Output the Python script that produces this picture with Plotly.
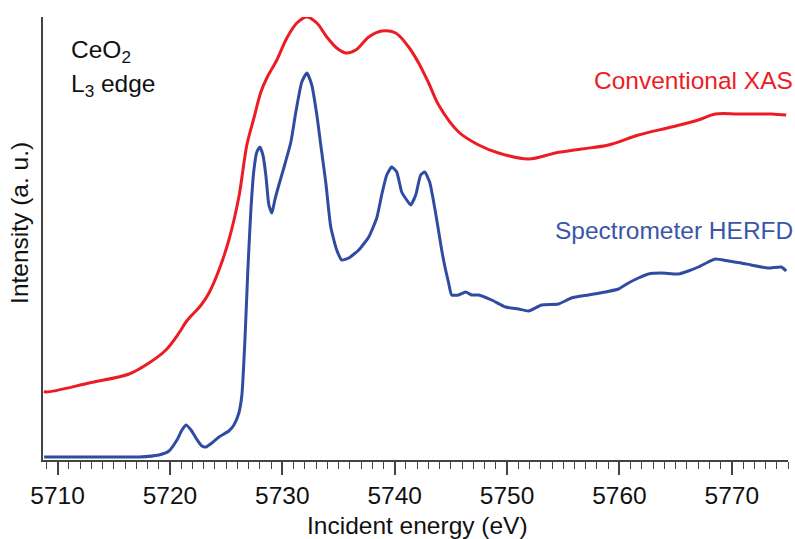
import plotly.graph_objects as go

# Conventional XAS (total fluorescence) – energy in eV, intensity in arbitrary units
xas_energy = [5708.80, 5708.98, 5712.80, 5716.36, 5718.13, 5719.64, 5720.80, 5721.42,
              5721.87, 5722.31, 5722.84, 5723.47, 5724.36, 5725.24, 5726.13, 5726.84,
              5727.47, 5728.09, 5728.62, 5729.51, 5730.40, 5731.29, 5732.18, 5733.07,
              5733.96, 5734.84, 5735.64, 5736.53, 5737.69, 5738.84, 5740.09, 5741.24,
              5742.13, 5743.02, 5743.91, 5745.69, 5747.47, 5749.24, 5751.91, 5754.31,
              5756.62, 5759.02, 5761.69, 5764.62, 5767.02, 5768.53, 5770.58, 5773.51,
              5774.84]
xas_intensity = [69, 68, 77, 86, 97, 110, 127, 138,
                 144, 149, 156, 167, 190, 220, 263, 315,
                 342, 368, 382, 400, 422, 437, 443, 437,
                 423, 412, 407, 410, 423, 429, 427, 413,
                 397, 377, 355, 328, 315, 307, 301, 307,
                 311, 315, 325, 333, 340, 346, 346, 346,
                 345]

# Spectrometer HERFD
herfd_energy = [5708.80, 5713.69, 5717.24, 5719.02, 5719.91, 5720.62, 5721.07, 5721.42,
                5721.87, 5722.31, 5722.84, 5723.20, 5723.73, 5724.36, 5725.24, 5725.69,
                5726.13, 5726.40, 5726.67, 5726.93, 5727.20, 5727.47, 5727.73, 5728.00,
                5728.27, 5728.53, 5728.80, 5729.07, 5729.33, 5729.69, 5730.13, 5730.76,
                5731.20, 5731.73, 5732.18, 5732.62, 5733.07, 5733.42, 5733.87, 5734.31,
                5734.84, 5735.29, 5735.91, 5736.80, 5737.69, 5738.40, 5738.84, 5739.29,
                5739.73, 5740.18, 5740.62, 5741.07, 5741.42, 5741.87, 5742.31, 5742.67,
                5743.11, 5743.64, 5744.18, 5744.53, 5744.80, 5745.07, 5745.69, 5746.31,
                5746.84, 5747.47, 5748.62, 5749.87, 5751.02, 5751.91, 5753.07, 5754.58,
                5755.73, 5757.24, 5758.76, 5759.91, 5760.80, 5761.69, 5762.58, 5763.73,
                5765.24, 5766.13, 5767.02, 5767.91, 5768.53, 5769.69, 5770.84, 5771.73,
                5773.24, 5774.40, 5774.84]
herfd_intensity = [3, 3, 3, 5, 9, 20, 30, 35,
                   30, 22, 14, 13, 17, 23, 29, 35,
                   47, 65, 120, 190, 250, 290, 308, 313,
                   305, 285, 255, 247, 260, 275, 292, 318,
                   348, 378, 387, 375, 345, 315, 277, 233,
                   210, 200, 202, 210, 223, 242, 265, 285,
                   293, 288, 268, 260, 255, 265, 285, 288,
                   278, 247, 210, 190, 177, 165, 165, 168,
                   165, 165, 160, 153, 151, 149, 155, 156,
                   162, 165, 168, 171, 177, 182, 186, 187,
                   186, 189, 193, 198, 201, 199, 197, 195,
                   192, 193, 189]

RED = "#ed1c24"
BLUE = "#2f4ca2"
AXIS = "#444444"
INK = "#111111"
FONT = "Liberation Sans, Arial, sans-serif"
FS = 24.5

fig = go.Figure()
fig.add_trace(go.Scatter(x=xas_energy, y=xas_intensity, mode="lines",
                         line=dict(color=RED, width=3, shape="spline", smoothing=0.9),
                         cliponaxis=False, showlegend=False))
fig.add_trace(go.Scatter(x=herfd_energy, y=herfd_intensity, mode="lines",
                         line=dict(color=BLUE, width=3, shape="spline", smoothing=0.5),
                         cliponaxis=False, showlegend=False))

fig.update_layout(
    width=795, height=539,
    margin=dict(l=43, r=7, t=17, b=79),
    paper_bgcolor="white", plot_bgcolor="white",
    font=dict(family=FONT, size=FS, color=INK),
    xaxis=dict(range=[5708.7, 5775.0], tick0=5710, dtick=10,
               ticks="outside", ticklen=13, tickwidth=1.5, tickcolor=AXIS,
               showline=True, linecolor=AXIS, linewidth=1.5,
               showgrid=False, zeroline=False,
               tickfont=dict(size=FS, color=INK),
               minor=dict(dtick=1, ticks="outside", ticklen=7, tickwidth=1.2,
                          tickcolor=AXIS, showgrid=False)),
    yaxis=dict(range=[0, 443], showticklabels=False, ticks="",
               showline=True, linecolor=AXIS, linewidth=1.5,
               showgrid=False, zeroline=False),
    annotations=[
        dict(text="CeO<sub>2</sub>", xref="paper", yref="paper", x=0.035, y=0.922,
             xanchor="left", yanchor="middle", showarrow=False,
             font=dict(size=FS, color=INK)),
        dict(text="L<sub>3</sub> edge", xref="paper", yref="paper", x=0.035, y=0.846,
             xanchor="left", yanchor="middle", showarrow=False,
             font=dict(size=FS, color=INK)),
        dict(text="Conventional XAS", xref="paper", yref="paper", x=1.009, y=0.856,
             xanchor="right", yanchor="middle", showarrow=False,
             font=dict(size=FS, color=RED)),
        dict(text="Spectrometer HERFD", xref="paper", yref="paper", x=1.010, y=0.519,
             xanchor="right", yanchor="middle", showarrow=False,
             font=dict(size=FS, color="#3a56a8")),
        dict(text="Intensity (a. u.)", xref="paper", yref="paper", x=-0.031, y=0.535,
             xanchor="center", yanchor="middle", textangle=-90, showarrow=False,
             font=dict(size=FS, color=INK)),
        dict(text="Incident energy (eV)", xref="paper", yref="paper", x=0.503, y=-0.147,
             xanchor="center", yanchor="middle", showarrow=False,
             font=dict(size=FS, color=INK)),
    ],
)

fig.write_html("out.html")
